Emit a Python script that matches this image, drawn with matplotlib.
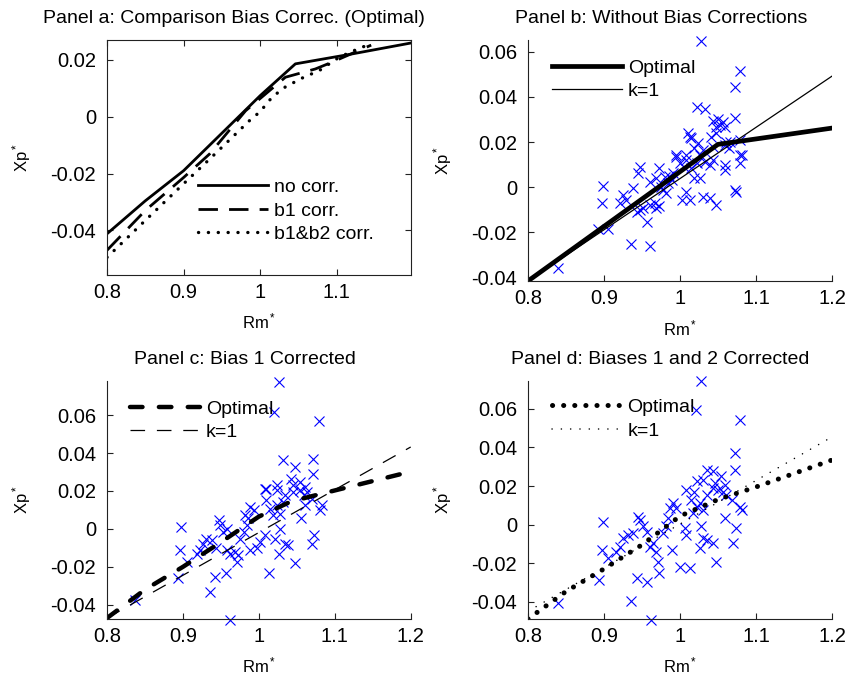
import numpy as np
import matplotlib
matplotlib.use("Agg")
import matplotlib.pyplot as plt

plt.rcParams['font.family'] = ['Liberation Sans', 'DejaVu Sans']
plt.rcParams['mathtext.fontset'] = 'custom'
plt.rcParams['mathtext.rm'] = 'Liberation Sans'
plt.rcParams['mathtext.it'] = 'Liberation Sans'
plt.rcParams['lines.scale_dashes'] = False

# ---------------- data ----------------
# Panel a: optimal curves for the three correction schemes
a_nocorr_x = [0.80, 0.85, 0.90, 0.95, 1.00, 1.046, 1.116, 1.196]
a_nocorr_y = [-0.0412, -0.0296, -0.0190, -0.0058, 0.0074, 0.0186, 0.0219, 0.0259]
a_b1_x = [0.80, 0.85, 0.90, 0.934, 0.981, 1.033, 1.072, 1.094, 1.145]
a_b1_y = [-0.0470, -0.0330, -0.0214, -0.0131, 0.0021, 0.0139, 0.0168, 0.0192, 0.0252]
a_b12_x = [0.80, 0.85, 0.90, 0.936, 0.986, 1.000, 1.016, 1.033, 1.057, 1.077, 1.103, 1.132, 1.145]
a_b12_y = [-0.0495, -0.0365, -0.0236, -0.0144, -0.0014, 0.0018, 0.0070, 0.0105, 0.0139, 0.0162, 0.0209, 0.0244, 0.0255]

# Panel b: without bias corrections
b_opt_x = [0.80, 0.90, 1.05, 1.20]
b_opt_y = [-0.0415, -0.0173, 0.0190, 0.0262]
b_k1_x = [0.80, 1.20]
b_k1_y = [-0.0415, 0.0492]
b_pts_x = [1.027, 1.079, 1.072, 1.022, 1.033, 1.072, 1.043, 1.050, 1.056, 1.052,
           1.047, 1.059, 1.015, 1.011, 1.048, 1.041, 1.079, 1.066, 1.059, 1.024,
           0.995, 1.008, 1.019, 1.030, 1.043, 1.013, 1.079,
           0.925, 0.921, 0.929, 0.938, 0.947, 0.945, 0.947, 0.943, 0.951, 0.960,
           0.967, 0.969, 0.973, 0.960, 0.969, 0.973, 0.980, 0.984, 0.978, 0.982,
           0.991, 0.995, 1.000, 1.008, 1.015, 1.022, 1.026, 1.033, 1.039, 1.043,
           1.002, 1.008, 1.013, 1.019, 1.026, 1.030, 1.039, 1.048, 1.059, 1.059,
           1.079, 1.081, 1.072, 1.074, 0.899, 0.897, 0.892, 0.905, 0.840, 0.936,
           0.961, 0.956, 0.985, 0.990, 0.975, 1.005, 1.060, 1.065]
b_pts_y = [0.0647, 0.0516, 0.0445, 0.0357, 0.0345, 0.0305, 0.0295, 0.0301, 0.0290, 0.0276,
           0.0268, 0.0268, 0.0217, 0.0239, 0.0239, 0.0224, 0.0209, 0.0202, 0.0187, 0.0195,
           0.0143, 0.0143, 0.0172, 0.0165, 0.0180, 0.0224, 0.0143,
           -0.0034, -0.0071, -0.0056, -0.0005, 0.0091, 0.0062, -0.0101, -0.0108, -0.0093, -0.0078,
           -0.0071, -0.0093, -0.0083, 0.0025, 0.0040, 0.0084, 0.0047, 0.0018, -0.0012, -0.0027,
           0.0062, 0.0135, 0.0106, 0.0121, 0.0084, 0.0106, 0.0143, 0.0113, 0.0099, 0.0121,
           -0.0056, -0.0019, -0.0056, 0.0040, 0.0040, -0.0042, -0.0049, -0.0078, 0.0099, 0.0077,
           0.0106, 0.0143, -0.0012, -0.0019, 0.0006, -0.0071, -0.0186, -0.0186, -0.0359, -0.0252,
           -0.0260, -0.0152, 0.0050, 0.0030, 0.0000, 0.0090, 0.0200, 0.0175]

# Panel c: bias 1 corrected
c_opt_x = [0.80, 0.85, 0.90, 0.95, 1.00, 1.042, 1.076, 1.20]
c_opt_y = [-0.0470, -0.0320, -0.0200, -0.0070, 0.0065, 0.0144, 0.0179, 0.0302]
c_k1_x = [0.80, 1.20]
c_k1_y = [-0.0470, 0.0432]
c_pts_x = [0.898, 0.896, 0.893, 0.905, 0.837, 0.936, 0.942, 0.957, 0.962,
           0.9225, 0.918, 0.927, 0.931, 0.938, 0.944, 0.947, 0.949, 0.953, 0.958,
           0.971, 0.973, 0.969, 0.962, 0.958, 0.975, 0.980, 0.984, 0.982, 0.988,
           0.993, 0.986, 0.997, 1.002, 0.988, 1.010, 1.015, 1.019, 1.024, 1.028,
           1.032, 1.035, 1.008, 1.021, 1.028, 1.035, 1.039, 1.026, 1.048, 1.013,
           1.045, 1.054, 1.059, 1.063, 1.070, 1.061, 1.056, 1.072, 1.070, 1.081,
           1.083, 1.010, 1.024,
           1.027, 1.020, 1.079, 1.032, 1.048, 1.071, 1.071, 1.043, 1.054, 1.061,
           1.045, 1.024, 1.008]
c_pts_y = [0.0011, -0.0112, -0.0261, -0.0174, -0.0375, -0.0331, -0.0252, -0.0235, -0.0481,
           -0.0112, -0.0130, -0.0077, -0.0051, -0.0059, -0.0103, 0.0046, 0.0019, -0.0016, 0.0002,
           -0.0174, -0.0138, -0.0121, -0.0130, -0.0112, -0.0051, -0.0016, 0.0019, 0.0072, 0.0116,
           0.0098, 0.0055, -0.0103, -0.0068, -0.0112, 0.0151, 0.0107, 0.0072, 0.0125, 0.0081,
           0.0142, 0.0177, -0.0033, -0.0051, 0.0002, -0.0077, -0.0086, -0.0130, -0.0182, -0.0235,
           0.0195, 0.0204, 0.0177, 0.0195, 0.0160, 0.0125, 0.0055, -0.0033, -0.0077, 0.0098,
           0.0125, 0.0212, 0.0204,
           0.0777, 0.0616, 0.0567, 0.0361, 0.0326, 0.0370, 0.0288, 0.0265, 0.0247, 0.0221,
           0.0230, 0.0230, 0.0212]

# Panel d: biases 1 and 2 corrected
d_opt_x = [0.80, 0.85, 0.90, 0.95, 1.00, 1.05, 1.10, 1.20]
d_opt_y = [-0.0490, -0.0347, -0.0230, -0.0105, 0.0044, 0.0130, 0.0195, 0.0335]
d_k1_x = [0.80, 1.20]
d_k1_y = [-0.0450, 0.0455]
d_pts_x = [0.899, 0.897, 0.893, 0.905, 0.840, 0.936, 0.943, 0.956, 0.962,
           0.921, 0.925, 0.916, 0.932, 0.938, 0.945, 0.947, 0.951, 0.956,
           0.960, 0.969, 0.971, 0.972, 0.965,
           0.978, 0.982, 0.984, 0.987, 0.991, 0.995, 0.989,
           1.000, 1.013, 1.006, 1.008, 1.017, 1.022, 1.026, 1.030, 1.015, 1.019, 1.035,
           1.028, 1.026, 1.035, 1.043, 1.048, 1.030,
           1.043, 1.050, 1.057, 1.061, 1.059, 1.068, 1.074, 1.070, 1.079, 1.081,
           1.027, 1.021, 1.079, 1.072, 1.072, 1.035, 1.043, 1.054, 1.030, 1.022,
           1.008, 1.046, 1.059]
d_pts_y = [0.0012, -0.0132, -0.0288, -0.0175, -0.0409, -0.0397, -0.0279, -0.0296, -0.0495,
           -0.0114, -0.0071, -0.0140, -0.0054, -0.0045, 0.0041, 0.0024, -0.0010, -0.0036,
           -0.0114, -0.0140, -0.0192, -0.0253, -0.0097,
           -0.0045, -0.0010, 0.0033, 0.0085, 0.0111, 0.0085, -0.0132,
           -0.0218, -0.0227, -0.0019, -0.0054, 0.0059, 0.0093, 0.0111, 0.0076, 0.0128, 0.0171, 0.0154,
           -0.0010, -0.0123, -0.0080, -0.0097, -0.0192, -0.0071,
           0.0189, 0.0180, 0.0171, 0.0154, 0.0033, 0.0128, -0.0019, -0.0097, 0.0093, 0.0076,
           0.0743, 0.0596, 0.0541, 0.0371, 0.0284, 0.0284, 0.0276, 0.0250, 0.0233, 0.0224,
           0.0181, 0.0215, 0.0207]

titles = ['Panel a: Comparison Bias Correc. (Optimal)',
          'Panel b: Without Bias Corrections',
          'Panel c: Bias 1 Corrected',
          'Panel d: Biases 1 and 2 Corrected']

W, H = 848, 687
fig = plt.figure(figsize=(W / 100, H / 100), dpi=100)


def make_axes(l, r, t, b):
    return fig.add_axes([l / W, 1 - b / H, (r - l) / W, (b - t) / H])


def style(ax, xlim, ylim, yticks, xticks, box, title, title_x):
    ax.set_xlim(*xlim)
    ax.set_ylim(*ylim)
    ax.set_xticks(xticks)
    ax.set_xticklabels(['%g' % v for v in xticks])
    ax.set_yticks(yticks)
    ax.set_yticklabels(['%g' % v for v in yticks])
    for s in ax.spines.values():
        s.set_linewidth(0.8)
        s.set_color('#222222')
    if not box:
        ax.spines['top'].set_visible(False)
        ax.spines['right'].set_visible(False)
    ax.tick_params(direction='in', length=4, width=0.8, labelsize=14.5,
                   top=box, right=box, color='#222222')
    ax.tick_params(axis='y', pad=8)
    ax.tick_params(axis='x', pad=6)
    ax.set_xlabel('Rm$^*$', fontsize=12)
    ax.set_ylabel('Xp$^*$', fontsize=12)
    ax.xaxis.set_label_coords(0.5, -0.155)
    ax.yaxis.set_label_coords(-0.245, 0.5)
    ax.set_title(title, fontsize=14, x=title_x, pad=12)


def legend(ax, fx, fy):
    ax.legend(loc='upper left', bbox_to_anchor=(fx, fy), frameon=False,
              borderpad=0, borderaxespad=0, handlelength=3.6,
              handletextpad=0.3, labelspacing=0.3, fontsize=14)


# Panel a
ax = make_axes(107, 411, 40, 275)
ax.plot(a_nocorr_x, a_nocorr_y, color='k', lw=2.0, label='no corr.')
ax.plot(a_b1_x, a_b1_y, color='k', lw=2.0, linestyle=(0, (14, 8)), label='b1 corr.')
ax.plot(a_b12_x, a_b12_y, color='k', lw=2.4, linestyle=(0, (0.1, 7)),
        dash_capstyle='round', label='b1&b2 corr.')
style(ax, (0.8, 1.197), (-0.0557, 0.0270), [-0.04, -0.02, 0, 0.02],
      [0.8, 0.9, 1.0, 1.1], True, titles[0], 0.418)
legend(ax, 0.30, 0.41)

# Panel b
ax = make_axes(528, 832, 40, 281)
ax.plot(b_pts_x, b_pts_y, 'x', color='b', ms=7, mew=0.8, clip_on=False)
ax.plot(b_opt_x, b_opt_y, color='k', lw=3.4, label='Optimal')
ax.plot(b_k1_x, b_k1_y, color='k', lw=0.9, label='k=1')
style(ax, (0.8, 1.2), (-0.0415, 0.0652), [-0.04, -0.02, 0, 0.02, 0.04, 0.06],
      [0.8, 0.9, 1.0, 1.1, 1.2], False, titles[1], 0.4375)
legend(ax, 0.079, 0.921)

# Panel c
ax = make_axes(107, 410.7, 381, 619)
ax.plot(c_pts_x, c_pts_y, 'x', color='b', ms=7, mew=0.8, clip_on=False)
ax.plot(c_opt_x, c_opt_y, color='k', lw=3.2, linestyle=(0, (9, 11.8)),
        dash_capstyle='round', label='Optimal')
ax.plot(c_k1_x, c_k1_y, color='k', lw=0.9, linestyle=(0, (10.5, 8.5)), label='k=1')
style(ax, (0.8, 1.2), (-0.0475, 0.0780), [-0.04, -0.02, 0, 0.02, 0.04, 0.06],
      [0.8, 0.9, 1.0, 1.1, 1.2], False, titles[2], 0.454)
legend(ax, 0.076, 0.920)

# Panel d
ax = make_axes(528, 832, 381, 619)
ax.plot(d_pts_x, d_pts_y, 'x', color='b', ms=7, mew=0.8, clip_on=False)
ax.plot(d_opt_x, d_opt_y, color='k', lw=3.6, linestyle=(0, (0.1, 7.9)),
        dash_capstyle='round', label='Optimal')
ax.plot(d_k1_x, d_k1_y, color='k', lw=1.1, linestyle=(0, (0.1, 6.6)),
        dash_capstyle='round', label='k=1')
style(ax, (0.8, 1.2), (-0.0490, 0.0745), [-0.04, -0.02, 0, 0.02, 0.04, 0.06],
      [0.8, 0.9, 1.0, 1.1, 1.2], False, titles[3], 0.434)
legend(ax, 0.078, 0.926)

fig.savefig('out.png', dpi=100)
